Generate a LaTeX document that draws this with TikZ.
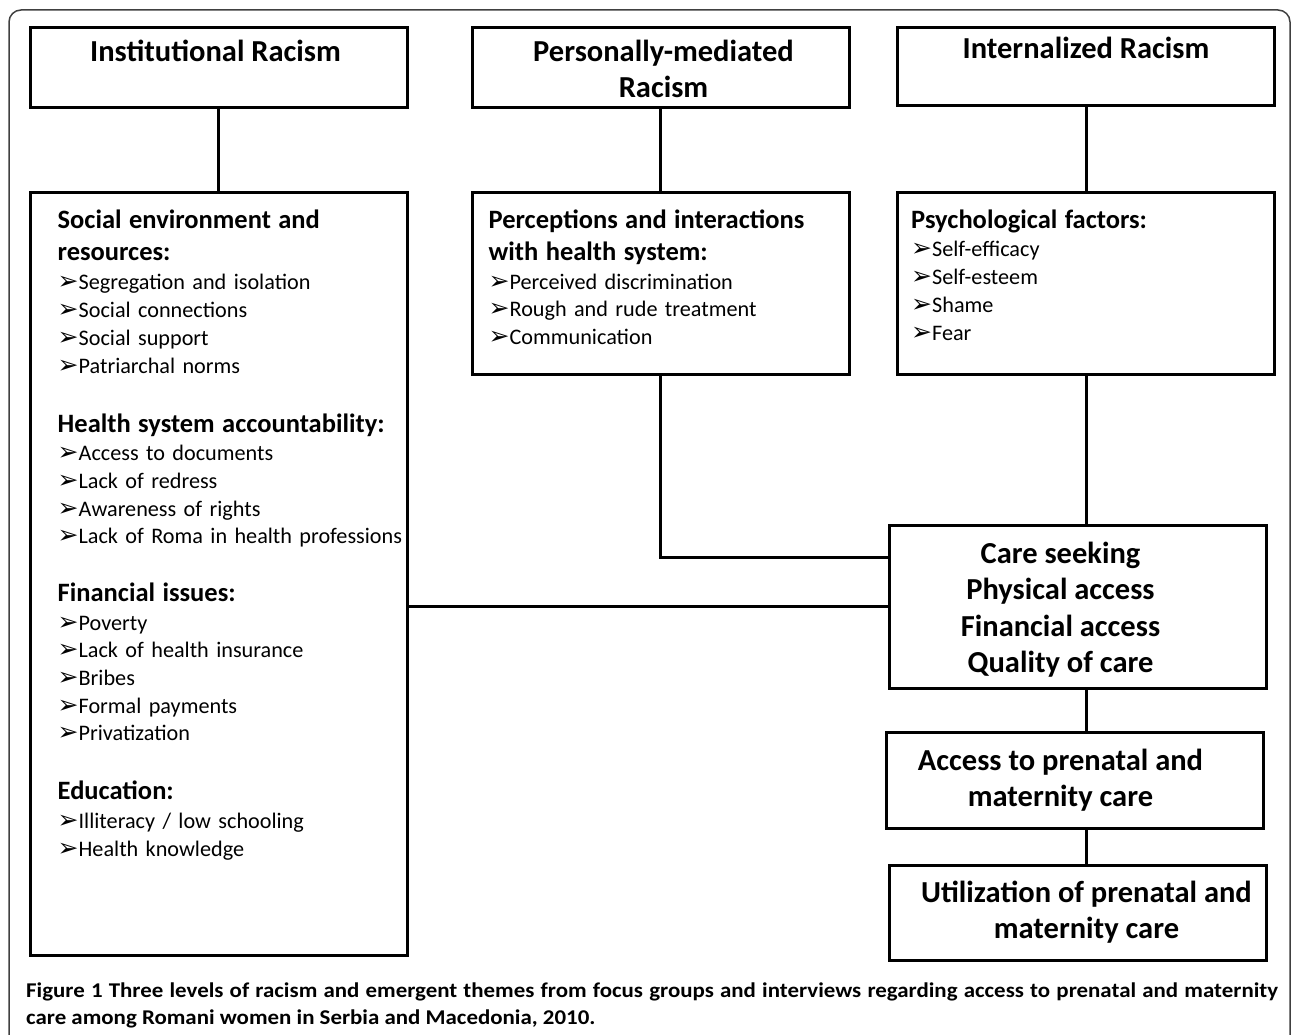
\documentclass[tikz,border=0pt]{standalone}
\usepackage{fontspec}
\setmainfont{Carlito}
\newfontfamily\listfont[WordSpace=0.8]{Carlito}
\newfontfamily\dingfont{DejaVu Sans}
\newfontfamily\capfont[FakeStretch=1.09]{Carlito}
\usetikzlibrary{positioning}

\newcommand{\hd}{\bfseries\fontsize{26.5}{32}\selectfont}
\newcommand{\bul}{{\dingfont\fontsize{25}{25}\selectfont ➢}}

\begin{document}
\begin{tikzpicture}[x=1pt, y=-1pt,
    racebox/.style={draw, rectangle, line width=3pt, minimum width=377pt, inner sep=0pt},
    boxtext/.style={inner sep=0pt, align=center, font=\bfseries\fontsize{30.5}{36.5}\selectfont},
    listtext/.style={inner sep=0pt, text width=370pt, align=left, font=\listfont\fontsize{22.2}{27.7}\selectfont},
    link/.style={line width=3pt}]
    \useasboundingbox (0,0) rectangle (1293,1035);
    \draw [black!75, line width=1.5pt, rounded corners=12pt] (9,1045) -- (9,10) -- (1290,10) -- (1290,1045);

    % three levels
    \node [racebox, minimum height=80pt] (inst) at (218.5,68) {};
    \node [racebox, minimum height=80pt] (personal) at (660.5,68) {};
    \node [racebox, minimum height=78pt] (internal) at (1086,67) {};
    \node [boxtext, below=13pt of inst.north, xshift=-3pt] (instT) {Institutional Racism};
    \node [boxtext, below=13pt of personal.north, xshift=3pt] (personalT) {Personally-mediated\\Racism};
    \node [boxtext, below=10pt of internal.north] (internalT) {Internalized Racism};

    % themes
    \node [racebox, minimum height=762pt] (social) at (218.5,574) {};
    \node [racebox, minimum height=181pt] (percep) at (660.5,283.5) {};
    \node [racebox, minimum height=181pt] (psych) at (1086,283.5) {};

    \node [listtext, below right=18pt and 29pt of social.north west] (socialT) {%
        {\hd Social environment and\\resources:\par}\vspace{2pt}
        \bul Segregation and isolation\\
        \bul Social connections\\
        \bul Social support\\
        \bul Patriarchal norms\par\vspace{27pt}
        {\hd Health system accountability:\par}\vspace{1pt}
        \bul Access to documents\\
        \bul Lack of redress\\
        \bul Awareness of rights\\
        \bul Lack of Roma in health professions\par\vspace{25.5pt}
        {\hd Financial issues:\par}\vspace{1pt}
        \bul Poverty\\
        \bul Lack of health insurance\\
        \bul Bribes\\
        \bul Formal payments\\
        \bul Privatization\par\vspace{27pt}
        {\hd Education:\par}\vspace{1pt}
        \bul Illiteracy / low schooling\\
        \bul Health knowledge};
    \node [listtext, below right=18pt and 18pt of percep.north west] (percepT) {%
        {\hd Perceptions and interactions\\with health system:\par}\vspace{1pt}
        \bul Perceived discrimination\\
        \bul Rough and rude treatment\\
        \bul Communication};
    \node [listtext, below right=18pt and 15pt of psych.north west] (psychT) {%
        {\hd Psychological factors:\par}\vspace{1pt}
        \bul Self-efficacy\\
        \bul Self-esteem\\
        \bul Shame\\
        \bul Fear};

    % outcomes
    \node [racebox, minimum height=163pt] (care) at (1077.5,606.5) {};
    \node [racebox, minimum height=96pt] (access) at (1074.5,780) {};
    \node [racebox, minimum height=95pt] (util) at (1077.5,912.5) {};
    \node [boxtext, below=18pt of care.north, xshift=-17pt] (careT) {Care seeking\\Physical access\\Financial access\\Quality of care};
    \node [boxtext, below=18pt of access.north, xshift=-14pt] (accessT) {Access to prenatal and\\maternity care};
    \node [boxtext, below=17pt of util.north, xshift=9pt] (utilT) {Utilization of prenatal and\\maternity care};

    \draw [link] (inst) -- (social);
    \draw [link] (personal) -- (percep);
    \draw [link] (internal) -- (psych);
    \draw [link] (percep.south) |- ([yshift=49.5pt]care.west);
    \draw [link] (care.west -| social.east) -- (care.west);
    \draw [link] (psych.south) -- (psych.south |- care.north);
    \draw [link] (care.south -| psych.south) -- (access.north -| psych.south);
    \draw [link] (access.south -| psych.south) -- (util.north -| psych.south);

    \node [inner sep=0pt, text width=1252pt, align=justify, anchor=north west,
        font=\capfont\bfseries\fontsize{21}{27}\selectfont] (caption) at (26,983)
        {Figure 1 Three levels of racism and emergent themes from focus groups and interviews regarding access to prenatal and maternity\linebreak care among Romani women in Serbia and Macedonia, 2010.};
\end{tikzpicture}
\end{document}
